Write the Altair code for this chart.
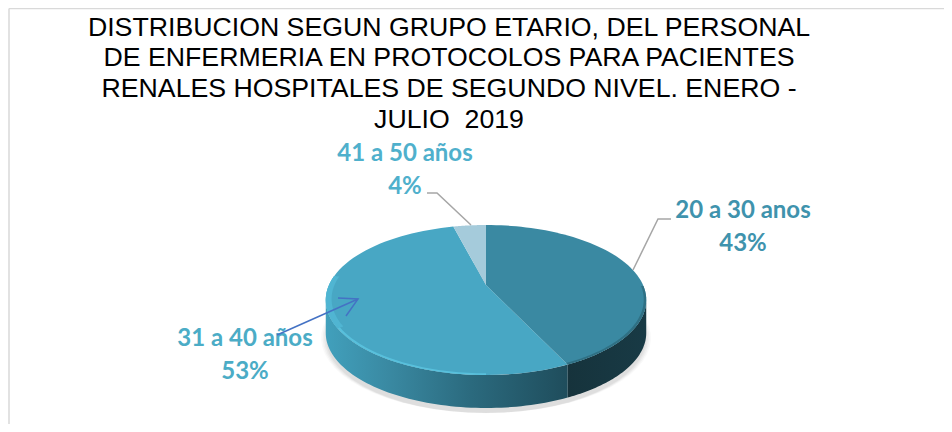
import math
import altair as alt

groups = ["20 a 30 anos", "31 a 40 años", "41 a 50 años"]
shares = [43, 53, 4]
percent_labels = ["43%", "53%", "4%"]
title_lines = [
    "DISTRIBUCION SEGUN GRUPO ETARIO, DEL PERSONAL",
    "DE ENFERMERIA EN PROTOCOLOS PARA PACIENTES",
    "RENALES HOSPITALES DE SEGUNDO NIVEL. ENERO -",
    "JULIO \u00a02019",
]

M = 8  # page margin
PROJ = alt.Projection(type="identity", scale=1, translate=[0, 0])
CX, APEX_Y, S, P, K, DEPTH = 486, 285, 157, 15, 0.2, 33


def rim(f, r=1.0, dy=0.0):
    """Point on the tilted pie for cumulative share f (clockwise from 12 o'clock)."""
    t = 2 * math.pi * f
    X, Y = r * math.sin(t), r * math.cos(t)
    d = 1 + K * Y
    return [CX + S * X / d - M, (APEX_Y - P * Y) / d - M + dy]


def arc(f0, f1, r=1.0, dy=0.0, n=70):
    return [rim(f0 + (f1 - f0) * i / n, r, dy) for i in range(n + 1)]


def shape(ring, **mark):
    ring = ring + [ring[0]]
    feat = {"type": "Feature", "properties": {}, "geometry": {"type": "Polygon", "coordinates": [ring]}}
    return alt.Chart(alt.Data(values=[feat])).mark_geoshape(strokeWidth=0, **mark).project(**PROJ.to_dict())


def path(points, color, width):
    pts = [[x - M, y - M] for x, y in points]
    feat = {"type": "Feature", "properties": {}, "geometry": {"type": "LineString", "coordinates": pts}}
    return alt.Chart(alt.Data(values=[feat])).mark_geoshape(
        filled=False, fill=None, stroke=color, strokeWidth=width
    ).project(**PROJ.to_dict())


cum = [sum(shares[:i]) / sum(shares) for i in range(len(shares) + 1)]
VIS0, VIS1 = 0.282, 0.718  # where the rim turns away from the viewer

layers = []

# soft shadow
for grow, op in [(1.03, 0.025), (1.02, 0.03), (1.01, 0.035), (1.0, 0.04)]:
    ring = [[CX - M + (p[0] - CX + M) * grow, p[1]] for p in arc(0, 1, 1.0, DEPTH + 5 * grow)]
    layers.append(shape(ring, fill="#000000", opacity=op))

# side wall
side_right = arc(VIS0, cum[1]) + arc(VIS0, cum[1], 1.0, DEPTH)[::-1]
side_left = arc(cum[1], VIS1) + arc(cum[1], VIS1, 1.0, DEPTH)[::-1]
layers.append(shape(side_right, fill=alt.Gradient(
    gradient="linear", x1=0, y1=0, x2=1, y2=0,
    stops=[alt.GradientStop(color="#16333C", offset=0), alt.GradientStop(color="#183A45", offset=1)],
)))
layers.append(shape(side_left, fill=alt.Gradient(
    gradient="linear", x1=0, y1=0, x2=1, y2=0,
    stops=[
        alt.GradientStop(color="#41A0BC", offset=0),
        alt.GradientStop(color="#3A8AA3", offset=0.25),
        alt.GradientStop(color="#2B6A7E", offset=0.6),
        alt.GradientStop(color="#1F4D5C", offset=1),
    ],
)))

# top face
apex = [CX - M, APEX_Y - M]
top_colors = ["#3A89A2", "#48A7C4", "#A5CBDB"]
for i, col in enumerate(top_colors):
    layers.append(shape([apex] + arc(cum[i], cum[i + 1]), fill=col))

# bevel along the front rim
layers.append(shape(arc(0.50, 0.77) + arc(0.50, 0.77, 0.985)[::-1], fill="#58C0DC"))
layers.append(shape(arc(0.66, 0.77) + arc(0.66, 0.77, 0.965)[::-1], fill="#50B5D2"))
layers.append(shape(arc(VIS0 - 0.03, cum[1]) + arc(VIS0 - 0.03, cum[1], 0.985)[::-1], fill="#2F7084"))

# leader lines and arrow
layers.append(path([(671, 219), (658, 219), (633, 270)], "#A6A6A6", 1.5))
layers.append(path([(427, 193), (437, 193), (471, 225)], "#A6A6A6", 1.5))

# frame
layers.append(alt.Chart(alt.Data(values=[{}])).mark_rule(color="#D9D9D9", strokeWidth=1.5).encode(
    x=alt.value(1), y=alt.value(0.5), y2=alt.value(416)))
layers.append(alt.Chart(alt.Data(values=[{}])).mark_rule(color="#D9D9D9", strokeWidth=1.5).encode(
    x=alt.value(1), x2=alt.value(936), y=alt.value(0.5)))

# data labels
label_x = [743, 245, 405]
name_y = [218, 346, 161]
pct_y = [251, 379, 194]
label_colors = ["#3F93AD", "#4BACC6", "#4FB0CC"]
rows = []
for i in range(3):
    rows.append({"t": groups[i], "x": label_x[i] - M, "y": name_y[i] - M, "c": label_colors[i]})
    rows.append({"t": percent_labels[i], "x": label_x[i] - M, "y": pct_y[i] - M, "c": label_colors[i]})
layers.append(alt.Chart(alt.Data(values=rows)).mark_text(
    font="Lato", fontSize=24, fontWeight="bold", align="center", baseline="alphabetic"
).encode(
    x=alt.X("x:Q", scale=None, axis=None),
    y=alt.Y("y:Q", scale=None, axis=None),
    text="t:N",
    color=alt.Color("c:N", scale=None, legend=None),
))

# arrow on top of the text
layers.append(path([(277, 335), (358, 299)], "#4472C4", 1.5))
layers.append(path([(338, 298), (358, 299), (346, 316)], "#4472C4", 1.5))

chart = alt.layer(*layers).properties(
    width=936, height=416,
    padding=0,
    autosize=alt.AutoSizeParams(type="none"),
    background="white",
    title=alt.TitleParams(
        text=title_lines, font="Liberation Sans", fontSize=26.7, fontWeight="normal", color="#000000",
        lineHeight=30.8, anchor="middle", dx=-27, offset=-147, baseline="alphabetic", frame="group",
    ),
).configure_view(stroke=None)

chart.save("out.html", embed_options={"renderer": "svg", "actions": False})
